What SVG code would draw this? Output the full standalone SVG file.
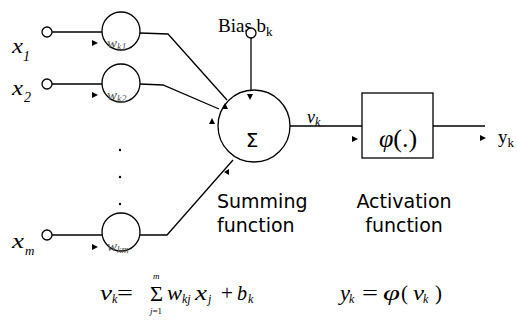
<svg xmlns="http://www.w3.org/2000/svg" width="517" height="333" viewBox="0 0 517 333">
<style>
.ln{fill:none;stroke:#000;stroke-width:1.3}
.nd{fill:#fff;stroke:#000;stroke-width:1.3}
.ah{fill:#000;stroke:none}
.ser{font-family:"Liberation Serif","Times New Roman",serif;fill:#000}
.it{font-style:italic}
.sans{font-family:"DejaVu Sans","Verdana",sans-serif;fill:#000}
.wl{font-family:"Liberation Serif","Times New Roman",serif;font-style:italic;fill:#555}
.eq{font-family:"Liberation Serif","Times New Roman",serif;font-size:22px;fill:#000}
.sb{font-family:"Liberation Serif","Times New Roman",serif;font-style:italic;font-size:12px;fill:#000}
</style>
<rect width="517" height="333" fill="#fff"/>
<g id="connectors">
  <line class="ln" x1="52" y1="32" x2="102" y2="32"/>
  <line class="ln" x1="52" y1="84" x2="102" y2="84"/>
  <line class="ln" x1="52" y1="235" x2="102" y2="235"/>
  <polyline class="ln" points="140,33 168,34 227,100"/>
  <polyline class="ln" points="140,84 163,85 219,109"/>
  <polyline class="ln" points="140,235 167,235 233,160"/>
  <line class="ln" x1="251" y1="38" x2="251" y2="90"/>
  <line class="ln" x1="290" y1="126" x2="362" y2="126"/>
  <line class="ln" x1="433" y1="126" x2="485" y2="126"/>
  <polygon class="ah" points="92,40 92,46 98,43"/>
  <polygon class="ah" points="92,92 92,98 98,95"/>
  <polygon class="ah" points="92,244 92,250 98,247"/>
  <polygon class="ah" points="247,94 253,94 250,100"/>
  <polygon class="ah" points="222,109 228,109 225,103"/>
  <polygon class="ah" points="209,124 215,124 212,118"/>
  <polygon class="ah" points="229,169 229,175 224,172"/>
  <polygon class="ah" points="352,136 352,142 358,139"/>
  <polygon class="ah" points="480,135 480,141 486,138"/>
</g>
<g id="x1">
  <circle class="nd" cx="47" cy="32" r="5"/>
  <text class="ser it" x="12" y="53" font-size="21" textLength="11" lengthAdjust="spacingAndGlyphs">x</text>
  <text class="ser it" x="23" y="61" font-size="14">1</text>
</g>
<g id="x2">
  <circle class="nd" cx="47" cy="84" r="5"/>
  <text class="ser it" x="12" y="95" font-size="21" textLength="11" lengthAdjust="spacingAndGlyphs">x</text>
  <text class="ser it" x="24" y="102" font-size="14">2</text>
</g>
<g id="xm">
  <circle class="nd" cx="47" cy="235" r="5"/>
  <text class="ser it" x="12" y="248" font-size="21" textLength="12" lengthAdjust="spacingAndGlyphs">x</text>
  <text class="ser it" x="25" y="255" font-size="13">m</text>
</g>
<g id="w1">
  <circle class="ln" cx="121" cy="31" r="19"/>
  <text class="wl" x="107" y="48" font-size="15">w<tspan font-size="10" dy="2">k1</tspan></text>
</g>
<g id="w2">
  <circle class="ln" cx="121" cy="83" r="19"/>
  <text class="wl" x="107" y="100" font-size="15">w<tspan font-size="10" dy="2">k2</tspan></text>
</g>
<g id="dots">
  <circle cx="120" cy="150" r="1.2" fill="#000"/>
  <circle cx="120" cy="177" r="1.2" fill="#000"/>
  <circle cx="120" cy="204" r="1.2" fill="#000"/>
</g>
<g id="wm">
  <circle class="ln" cx="121" cy="232" r="19"/>
  <text class="wl" x="107" y="251" font-size="15">w<tspan font-size="10" dy="2">km</tspan></text>
</g>
<g id="bias">
  <text class="ser" x="218" y="32" font-size="19">Bias b<tspan font-size="13" dy="4">k</tspan></text>
  <circle class="nd" cx="251" cy="33" r="5"/>
</g>
<g id="sum">
  <circle class="ln" cx="254" cy="126" r="36"/>
  <text class="sans" x="252" y="147" font-size="20" text-anchor="middle">Σ</text>
  <text class="sans" x="217" y="208" font-size="19">Summing</text>
  <text class="sans" x="217" y="232" font-size="19">function</text>
</g>
<g id="vk">
  <text class="ser it" x="307" y="123" font-size="18">v<tspan font-size="12" dy="3">k</tspan></text>
</g>
<g id="activation">
  <rect class="ln" x="362" y="93" width="71" height="65"/>
  <text class="ser it" x="398" y="147" font-size="26" text-anchor="middle">φ<tspan font-style="normal">(.)</tspan></text>
  <text class="sans" x="404" y="208" font-size="19" text-anchor="middle">Activation</text>
  <text class="sans" x="404" y="232" font-size="19" text-anchor="middle">function</text>
</g>
<g id="yk">
  <text class="ser" x="498" y="143" font-size="19">y<tspan font-size="13" dy="4">k</tspan></text>
</g>
<g id="eq1">
  <text class="eq it" x="100" y="300" textLength="12" lengthAdjust="spacingAndGlyphs">v</text>
  <text class="sb" x="112" y="303">k</text>
  <text class="eq" x="117" y="300" textLength="16" lengthAdjust="spacingAndGlyphs">=</text>
  <text class="eq" x="150" y="301" font-size="22" textLength="13" lengthAdjust="spacingAndGlyphs">Σ</text>
  <text class="ser it" x="153" y="279" font-size="9">m</text>
  <text class="ser" x="150" y="314" font-size="9"><tspan font-style="italic">j</tspan>=1</text>
  <text class="eq it" x="167" y="300" textLength="15" lengthAdjust="spacingAndGlyphs">w</text>
  <text class="sb" x="182" y="303">kj</text>
  <text class="eq it" x="195" y="300" textLength="12" lengthAdjust="spacingAndGlyphs">x</text>
  <text class="sb" x="208" y="303">j</text>
  <text class="eq" x="221" y="300" textLength="12" lengthAdjust="spacingAndGlyphs">+</text>
  <text class="eq it" x="237" y="300" textLength="10" lengthAdjust="spacingAndGlyphs">b</text>
  <text class="sb" x="248" y="303">k</text>
</g>
<g id="eq2">
  <text class="eq it" x="340" y="300" textLength="10" lengthAdjust="spacingAndGlyphs">y</text>
  <text class="sb" x="349" y="303">k</text>
  <text class="eq" x="362" y="300" textLength="16" lengthAdjust="spacingAndGlyphs">=</text>
  <text class="eq it" x="383" y="300" textLength="17" lengthAdjust="spacingAndGlyphs">φ</text>
  <text class="eq" x="401" y="300" textLength="7" lengthAdjust="spacingAndGlyphs">(</text>
  <text class="eq it" x="413" y="300" textLength="11" lengthAdjust="spacingAndGlyphs">v</text>
  <text class="sb" x="423" y="303">k</text>
  <text class="eq" x="435" y="300" textLength="7" lengthAdjust="spacingAndGlyphs">)</text>
</g>
</svg>
